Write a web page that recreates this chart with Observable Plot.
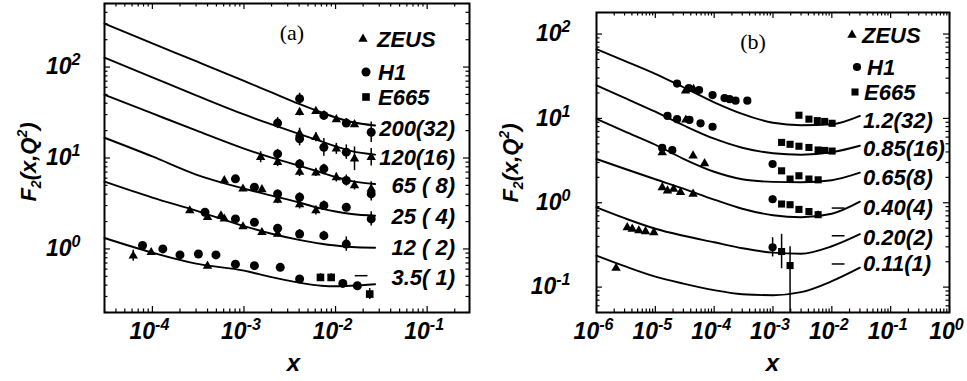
<!DOCTYPE html>
<html><head><meta charset="utf-8">
<script src="https://cdn.jsdelivr.net/npm/d3@7"></script>
<script src="https://cdn.jsdelivr.net/npm/@observablehq/plot@0.6"></script>
<style>
body{margin:0;background:#fff;}
#row{display:flex;width:967px;height:381px;overflow:hidden;}
svg text{white-space:pre;}
</style></head><body><div id="row"></div>
<script>
// ---------- Panel (a) ----------
const aXDomain = [3e-5, 0.29];
const aYDomain = [0.2, 500];
const aXExp = [-4, -3, -2, -1];
const aYExp = [0, 1, 2];
const aCurveX = [3e-5, 1e-4, 3e-4, 1e-3, 2e-3, 4e-3, 7e-3, 1e-2, 1.5e-2, 2.7e-2];
const aC1 = [300, 182, 116, 70.5, 52.6, 39.3, 31.7, 27.9, 24.9, 22.8];
const aC2 = [127, 77, 48.8, 30.1, 23.4, 18.4, 15.2, 13.4, 11.9, 10.9];
const aC3 = [49.6, 30.9, 20.1, 12.7, 10.1, 8.26, 6.92, 6.18, 5.57, 5.17];
const aC4 = [16.7, 10.4, 6.58, 4.61, 3.86, 3.24, 2.78, 2.58, 2.42, 2.32];
const aC5 = [5.5, 3.67, 2.64, 1.78, 1.47, 1.26, 1.14, 1.09, 1.05, 1.03];
const aC6 = [1.32, 0.91, 0.689, 0.577, 0.489, 0.426, 0.394, 0.389, 0.394, 0.409];
const aLabels = ["200(32)", "120(16)", "65 ( 8)", "25 ( 4)", "12 ( 2)", "3.5( 1)"];
// [x, F2, error factor down, (error factor up)]
const aZEUS = [
  [4.05e-3, 31.9, 1.1], [6.1e-3, 32.7, 1.08], [1.02e-2, 26.5, 1.08], [1.61e-2, 23.4, 1.08],
  [4.05e-3, 18.5, 1.15], [6.1e-3, 16.9, 1.12], [1.02e-2, 12.6, 1.15], [1.61e-2, 9.8, 1.35], [2.45e-2, 10.2, 1.25],
  [1.52e-3, 10.2, 1.15], [2.33e-3, 9.0, 1.12], [4.05e-3, 7.0, 1.12], [6.1e-3, 6.9, 1.1], [1.02e-2, 6.1, 1.12], [1.61e-2, 4.98, 1.12], [2.45e-2, 4.58, 1.2],
  [6.1e-4, 5.65, 1.06], [9.75e-4, 4.58, 1.06], [1.57e-3, 4.5, 1.06], [2.33e-3, 3.46, 1.1], [4.05e-3, 3.08, 1.12], [6.1e-3, 2.64, 1.12],
  [2.56e-4, 2.64, 1.05], [4.0e-4, 2.23, 1.05], [5.6e-4, 2.32, 1.05], [6.1e-4, 2.14, 1.05], [9.75e-4, 1.76, 1.05], [1.57e-3, 1.52, 1.06], [2.33e-3, 1.46, 1.08],
  [6.18e-5, 0.84, 1.15], [9.7e-5, 0.916, 1.06], [4.0e-4, 0.65, 1.06]
];
const aH1 = [
  [4.05e-3, 44.9, 1.15], [7.45e-3, 29.4, 1.12], [1.31e-2, 24.2, 1.12], [2.45e-2, 19.2, 1.3],
  [2.33e-3, 24.2, 1.15], [4.05e-3, 16.3, 1.2], [7.45e-3, 13.1, 1.25], [1.31e-2, 11.6, 1.2],
  [2.33e-3, 11.1, 1.12], [4.05e-3, 8.6, 1.12], [7.45e-3, 7.6, 1.12], [1.31e-2, 5.65, 1.15], [2.45e-2, 4.03, 1.2],
  [8.07e-4, 5.9, 1.05], [1.3e-3, 4.77, 1.06], [2.33e-3, 4.03, 1.1], [4.05e-3, 3.7, 1.12], [7.45e-3, 3.0, 1.12], [1.31e-2, 2.87, 1.1], [2.45e-2, 2.14, 1.2],
  [3.75e-4, 2.53, 1.05], [8.07e-4, 2.14, 1.06], [1.3e-3, 1.96, 1.08], [2.33e-3, 1.69, 1.1], [4.05e-3, 1.46, 1.12], [7.45e-3, 1.40, 1.12], [1.31e-2, 1.13, 1.2],
  [7.8e-5, 1.09, 1.05], [1.3e-4, 1.0, 1.04], [2.0e-4, 0.86, 1.04], [3.18e-4, 0.88, 1.04], [4.94e-4, 0.86, 1.04], [8.07e-4, 0.68, 1.04],
  [1.3e-3, 0.655, 1.04], [2.49e-3, 0.627, 1.04], [4.05e-3, 0.467, 1.06], [1.2e-2, 0.418, 1.06], [1.73e-2, 0.394, 1.08]
];
const aE665 = [[6.84e-3, 0.486, 1.1], [8.95e-3, 0.486, 1.1], [2.36e-2, 0.319, 1.15]];
const aDash = [[1.9e-2, 0.508]];

// ---------- Panel (b) ----------
const bXDomain = [1e-6, 1];
const bYDomain = [0.05, 180];
const bXExp = [-6, -5, -4, -3, -2, -1, 0];
const bYExp = [-1, 0, 1, 2];
const bCurveX = [1e-6, 3e-6, 1e-5, 3e-5, 1e-4, 3e-4, 1e-3, 3e-3, 1e-2, 3e-2];
const bC1 = [66.2, 48.2, 33.8, 23.4, 15.5, 11.3, 8.87, 8.29, 8.51, 10.7];
const bC2 = [24.7, 17.5, 12.0, 8.29, 5.74, 4.49, 3.86, 3.71, 3.97, 4.74];
const bC3 = [9.9, 7.03, 4.87, 3.32, 2.33, 1.90, 1.77, 1.75, 1.85, 2.27];
const bC4 = [3.30, 2.53, 1.90, 1.47, 1.09, 0.849, 0.711, 0.673, 0.741, 1.03];
const bC5 = [0.881, 0.656, 0.492, 0.406, 0.340, 0.289, 0.256, 0.249, 0.305, 0.424];
const bC6 = [0.236, 0.177, 0.133, 0.110, 0.092, 0.0824, 0.0802, 0.0871, 0.1175, 0.170];
const bLabels = ["1.2(32)", "0.85(16)", "0.65(8)", "0.40(4)", "0.20(2)", "0.11(1)"];
const bZEUS = [
  [3.26e-5, 21.2, 1.04], [4.46e-5, 22.2, 1.04],
  [3.3e-5, 9.6, 1.04],
  [1.31e-5, 3.95, 1.04], [4.38e-5, 3.61, 1.05], [6.87e-5, 2.92, 1.05],
  [1.31e-5, 1.52, 1.04], [1.61e-5, 1.39, 1.04], [2.04e-5, 1.45, 1.04], [2.68e-5, 1.33, 1.04], [4.38e-5, 1.27, 1.05],
  [3.33e-6, 0.51, 1.04], [4.05e-6, 0.489, 1.04], [5.24e-6, 0.467, 1.04], [6.81e-6, 0.457, 1.04], [9.43e-6, 0.445, 1.04],
  [2.15e-6, 0.168, 1.05]
];
const bH1 = [
  [2.34e-5, 25.9, 1.04], [3.71e-5, 22.9, 1.04], [5.54e-5, 21.7, 1.04], [9.39e-5, 18.9, 1.04],
  [1.5e-4, 17.4, 1.04], [1.83e-4, 16.9, 1.04], [2.31e-4, 16.2, 1.04], [3.66e-4, 16.2, 1.04],
  [1.61e-5, 10.7, 1.04], [2.34e-5, 9.8, 1.04], [3.8e-5, 9.6, 1.04], [5.87e-5, 8.75, 1.04], [9.39e-5, 7.96, 1.08],
  [1.31e-5, 4.47, 1.04], [1.94e-5, 4.2, 1.04],
  [9.85e-4, 2.88, 1.08], [9.85e-4, 1.10, 1.1], [9.85e-4, 0.296, 1.3]
];
const bE665 = [
  [2.76e-3, 10.9, 1.04], [4.08e-3, 9.8, 1.04], [5.66e-3, 9.4, 1.04], [7.55e-3, 9.2, 1.04], [1.01e-2, 8.75, 1.04],
  [1.4e-3, 5.19, 1.04], [1.95e-3, 4.93, 1.04], [2.76e-3, 4.68, 1.04], [4.08e-3, 4.52, 1.04], [5.85e-3, 4.22, 1.04], [7.55e-3, 4.17, 1.04], [1.01e-2, 4.1, 1.04],
  [1.4e-3, 2.39, 1.05], [1.95e-3, 1.91, 1.05], [2.76e-3, 2.09, 1.05], [4.08e-3, 1.91, 1.05], [5.85e-3, 1.87, 1.05],
  [1.4e-3, 0.966, 1.05], [1.95e-3, 0.948, 1.05], [2.76e-3, 0.834, 1.05], [4.08e-3, 0.787, 1.05], [5.85e-3, 0.722, 1.1],
  [1.4e-3, 0.264, 1.6, 1.6], [1.95e-3, 0.18, 4, 1.67]
];
const bDash = [[1.28e-2, 0.865], [1.28e-2, 0.406], [1.28e-2, 0.188]];
const legendNames = ["ZEUS", "H1", "E665"];

const FONT = '"Liberation Sans", Arial, Helvetica, sans-serif';
const SERIF = '"Liberation Serif", "Times New Roman", serif';
const NS = "http://www.w3.org/2000/svg";
const H = 381;

const dashSymbol = {draw(ctx, size) { const w = Math.sqrt(size) * 0.9; ctx.moveTo(-w, 0); ctx.lineTo(w, 0); }};

function minorTicks(dom) {
  const out = [];
  const lo = Math.floor(Math.log10(dom[0])), hi = Math.ceil(Math.log10(dom[1]));
  for (let k = lo; k <= hi; k++) for (let m = 2; m <= 9; m++) {
    const v = m * Math.pow(10, k);
    if (v >= dom[0] && v <= dom[1]) out.push(v);
  }
  return out;
}

function supText(t, supFs, raise) {
  const m = t.textContent.match(/^10\^(-?\d+)$/);
  if (!m) return;
  t.textContent = "10";
  const ts = document.createElementNS(NS, "tspan");
  ts.setAttribute("dy", -raise);
  ts.setAttribute("font-size", supFs);
  ts.textContent = m[1];
  t.appendChild(ts);
}

function buildPanel(cfg) {
  const innerW = cfg.width - cfg.marginLeft - cfg.marginRight;
  const innerH = H - cfg.marginTop - cfg.marginBottom;
  const xMaj = cfg.xExp.map(e => Math.pow(10, e));
  const yMaj = cfg.yExp.map(e => Math.pow(10, e));
  const xMin = minorTicks(cfg.xDomain), yMin = minorTicks(cfg.yDomain);
  const curveRows = cfg.curves.flatMap((ys, i) => ys.map((y, j) => ({x: cfg.curveX[j], y, c: i})));
  const toPts = arr => arr.map(([x, y, fd, fu]) => ({x, y, lo: y / fd, hi: y * (fu ?? fd)}));
  const Z = toPts(cfg.zeus), Hh = toPts(cfg.h1), E = toPts(cfg.e665);
  const fmt = d => "10^" + Math.round(Math.log10(d));
  const tk = {stroke: "black", strokeWidth: 1.2};
  const plot = Plot.plot({
    width: cfg.width, height: H,
    marginLeft: cfg.marginLeft, marginRight: cfg.marginRight,
    marginTop: cfg.marginTop, marginBottom: cfg.marginBottom,
    x: {type: "log", domain: cfg.xDomain, label: null},
    y: {type: "log", domain: cfg.yDomain, label: null},
    style: {background: "white", fontFamily: FONT, overflow: "visible"},
    marks: [
      Plot.line(curveRows, {x: "x", y: "y", z: "c", curve: "monotone-x", stroke: "black", strokeWidth: 1.9}),
      Plot.ruleX([...Z, ...Hh, ...E], {x: "x", y1: "lo", y2: "hi", stroke: "black", strokeWidth: 1.5, clip: true}),
      Plot.dot(Z, {x: "x", y: "y", symbol: "triangle", r: cfg.rTri, fill: "black"}),
      Plot.dot(Hh, {x: "x", y: "y", symbol: "circle", r: cfg.rCirc, fill: "black"}),
      Plot.dot(E, {x: "x", y: "y", symbol: "square", r: cfg.rSq, fill: "black"}),
      Plot.dot(cfg.dashes, {x: d => d[0], y: d => d[1], symbol: dashSymbol, r: 4, stroke: "black", strokeWidth: 1.5}),
      Plot.tickX(xMaj, {...tk, insetTop: innerH - 6}),
      Plot.tickX(xMaj, {...tk, insetBottom: innerH - 6}),
      Plot.tickX(xMin, {...tk, insetTop: innerH - 3.5}),
      Plot.tickX(xMin, {...tk, insetBottom: innerH - 3.5}),
      Plot.tickY(yMaj, {...tk, insetRight: innerW - 6}),
      Plot.tickY(yMaj, {...tk, insetLeft: innerW - 6}),
      Plot.tickY(yMin, {...tk, insetRight: innerW - 3.5}),
      Plot.tickY(yMin, {...tk, insetLeft: innerW - 3.5}),
      Plot.frame({stroke: "black", strokeWidth: 2}),
      Plot.axisX(xMaj, {anchor: "bottom", tickSize: 0, tickPadding: 10, tickFormat: fmt, label: null,
        fontSize: 23, fontWeight: "bold", fontStyle: "italic", dx: -3}),
      Plot.axisY(yMaj, {anchor: "left", tickSize: 0, tickPadding: cfg.yPad, tickFormat: fmt, label: null,
        fontSize: 23, fontWeight: "bold", fontStyle: "italic"})
    ]
  });
  plot.querySelectorAll('g[aria-label="x-axis tick label"] text, g[aria-label="y-axis tick label"] text')
    .forEach(t => supText(t, 16, 9));

  const svg = d3.select(plot);
  const txt = (x, y, s, o = {}) => svg.append("text").attr("x", x).attr("y", y)
    .attr("font-family", o.family || FONT).attr("font-size", o.size || 22)
    .attr("font-weight", o.weight || "bold").attr("font-style", o.style || "italic")
    .attr("text-anchor", o.anchor || "start").attr("fill", "black").text(s);

  // panel tag
  txt(cfg.tag.x, cfg.tag.y, cfg.tag.text, {family: SERIF, size: 22, weight: "normal", style: "normal", anchor: "middle"});
  // legend
  const syms = [d3.symbolTriangle, d3.symbolCircle, d3.symbolSquare];
  const areas = [Math.PI * cfg.rTri ** 2, Math.PI * cfg.rCirc ** 2, Math.PI * cfg.rSq ** 2];
  legendNames.forEach((name, i) => {
    const L = cfg.legend[i];
    svg.append("path").attr("d", d3.symbol(syms[i], areas[i])()).attr("transform", `translate(${L.mx},${L.y})`).attr("fill", "black");
    txt(L.tx, L.y + 8, name);
  });
  // curve labels
  cfg.labels.forEach((s, i) => txt(cfg.labelX, cfg.labelY[i] + 8, s, {anchor: cfg.labelAnchor}));
  // axis titles
  const cx = cfg.marginLeft + innerW / 2 + cfg.xTitleDx;
  txt(cx, 371, "x", {size: 24, anchor: "middle"});
  const yt = svg.append("text").attr("transform", `translate(${cfg.yTitleX},${cfg.yTitleY}) rotate(-90)`)
    .attr("font-family", FONT).attr("font-size", 22).attr("font-weight", "bold").attr("font-style", "italic")
    .attr("text-anchor", "middle").attr("fill", "black");
  yt.append("tspan").text("F");
  yt.append("tspan").attr("font-size", 14).attr("dy", 5).text("2");
  yt.append("tspan").attr("dy", -5).text("(x,Q");
  yt.append("tspan").attr("font-size", 14).attr("dy", -9).text("2");
  yt.append("tspan").attr("dy", 9).text(")");
  return plot;
}

const row = document.getElementById("row");
row.appendChild(buildPanel({
  width: 483, marginLeft: 104, marginRight: 14, marginTop: 3, marginBottom: 69,
  xDomain: aXDomain, yDomain: aYDomain, xExp: aXExp, yExp: aYExp, yPad: 24,
  curveX: aCurveX, curves: [aC1, aC2, aC3, aC4, aC5, aC6],
  zeus: aZEUS, h1: aH1, e665: aE665, dashes: aDash,
  rTri: 3.5, rCirc: 4.5, rSq: 4.3,
  tag: {x: 292, y: 40, text: "(a)"},
  legend: [{mx: 363, tx: 377, y: 39}, {mx: 366, tx: 378, y: 72}, {mx: 366, tx: 378, y: 97}],
  labels: aLabels, labelX: 455, labelAnchor: "end", labelY: [128, 157, 185, 216, 247, 277],
  xTitleDx: 7, yTitleX: 36, yTitleY: 162
}));
row.appendChild(buildPanel({
  width: 484, marginLeft: 113, marginRight: 18, marginTop: 12, marginBottom: 69,
  xDomain: bXDomain, yDomain: bYDomain, xExp: bXExp, yExp: bYExp, yPad: 26,
  curveX: bCurveX, curves: [bC1, bC2, bC3, bC4, bC5, bC6],
  zeus: bZEUS, h1: bH1, e665: bE665, dashes: bDash,
  rTri: 3.5, rCirc: 4.1, rSq: 4.0,
  tag: {x: 270, y: 49, text: "(b)"},
  legend: [{mx: 369, tx: 379, y: 35}, {mx: 374, tx: 384, y: 67}, {mx: 372, tx: 381, y: 92}],
  labels: bLabels, labelX: 380, labelAnchor: "start", labelY: [120, 148, 177, 207, 237, 263],
  xTitleDx: 0, yTitleX: 35, yTitleY: 163
}));
</script></body></html>
